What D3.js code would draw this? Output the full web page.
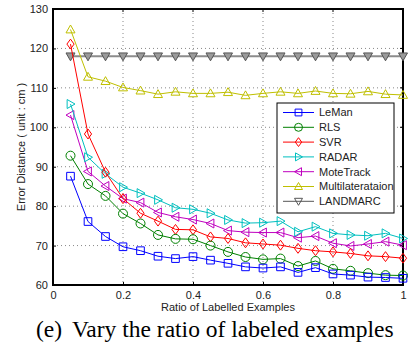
<!DOCTYPE html>
<html>
<head>
<meta charset="utf-8">
<script src="https://cdn.jsdelivr.net/npm/d3@7"></script>
<style>
  body { margin: 0; background: #fff; }
  svg text { font-family: "Liberation Sans", Arial, sans-serif; }
</style>
</head>
<body>
<div id="chart"></div>
<script>
// ratio of labelled examples
const ratios = [0.05, 0.1, 0.15, 0.2, 0.25, 0.3, 0.35, 0.4, 0.45, 0.5,
                0.55, 0.6, 0.65, 0.7, 0.75, 0.8, 0.85, 0.9, 0.95, 1.0];

const leman     = [87.6, 76.1, 72.3, 69.7, 68.7, 67.3, 66.7, 67.2, 66.3, 65.5, 64.6, 64.3, 64.6, 63.2, 64.4, 62.8, 62.5, 62.0, 61.9, 61.7];
const rls       = [92.8, 85.6, 82.6, 78.1, 75.6, 72.7, 71.7, 71.6, 70.0, 68.4, 67.1, 66.5, 66.7, 64.8, 66.1, 64.1, 63.6, 63.0, 62.5, 62.4];
const svr       = [121.1, 98.3, 88.6, 81.9, 78.2, 76.2, 74.1, 74.0, 72.2, 71.8, 70.7, 70.4, 70.1, 69.3, 68.7, 68.4, 68.0, 67.4, 67.2, 66.8];
const radar     = [105.9, 92.4, 88.2, 84.8, 83.3, 81.6, 79.6, 79.2, 78.2, 76.5, 75.7, 75.8, 76.2, 73.5, 74.8, 73.1, 72.7, 72.5, 73.1, 71.8];
const motetrack = [103.1, 88.8, 85.1, 81.9, 80.9, 78.4, 77.3, 76.6, 75.6, 73.8, 73.4, 73.3, 73.3, 72.0, 72.4, 70.6, 69.9, 70.4, 71.0, 70.1];
const multilat  = [124.8, 112.8, 111.7, 110.1, 109.3, 108.4, 109.0, 108.6, 108.6, 108.9, 108.1, 108.6, 109.0, 108.6, 109.2, 108.6, 108.5, 109.1, 108.4, 108.2];
const landmarc  = [118, 118, 118, 118, 118, 118, 118, 118, 118, 118, 118, 118, 118, 118, 118, 118, 118, 118, 118, 118];

const seriesNames = ["LeMan", "RLS", "SVR", "RADAR", "MoteTrack", "Multilaterataion", "LANDMARC"];
const seriesValues = [leman, rls, svr, radar, motetrack, multilat, landmarc];
const colors = ["#0000ff", "#008000", "#ff0000", "#00bfbf", "#bf00bf", "#bfbf00", "#555555"];
const markers = ["square", "circle", "diamond", "triR", "triL", "triU", "triD"];

const xTicks = [0, 0.2, 0.4, 0.6, 0.8, 1];
const yTicks = [60, 70, 80, 90, 100, 110, 120, 130];

const W = 413, H = 347;
const margin = { top: 9, right: 10, bottom: 62, left: 53 };
const width = 403 - margin.left;
const height = 285 - margin.top;

const svg = d3.select("#chart").append("svg")
    .attr("width", W).attr("height", H);

svg.append("rect").attr("width", W).attr("height", H).attr("fill", "#fff");

const g = svg.append("g")
    .attr("transform", "translate(" + margin.left + "," + margin.top + ")");

const x = d3.scaleLinear().domain([0, 1]).range([0, width]);
const y = d3.scaleLinear().domain([60, 130]).range([height, 0]);

// dotted grid
g.selectAll(".gx").data(xTicks.slice(1, -1)).enter().append("line")
    .attr("x1", d => x(d)).attr("x2", d => x(d))
    .attr("y1", 0).attr("y2", height)
    .attr("stroke", "#888").attr("stroke-width", 1).attr("stroke-dasharray", "1,3");
g.selectAll(".gy").data(yTicks.slice(1, -1)).enter().append("line")
    .attr("x1", 0).attr("x2", width)
    .attr("y1", d => y(d)).attr("y2", d => y(d))
    .attr("stroke", "#888").attr("stroke-width", 1).attr("stroke-dasharray", "1,3");

// axes
const xAxis = g.append("g")
    .attr("transform", "translate(0," + height + ")")
    .call(d3.axisBottom(x).tickValues(xTicks).tickFormat(d3.format("~g")).tickSizeInner(-3).tickSizeOuter(0).tickPadding(6));
const yAxis = g.append("g")
    .call(d3.axisLeft(y).tickValues(yTicks).tickSizeInner(-3).tickSizeOuter(0).tickPadding(5));
[xAxis, yAxis].forEach(a => {
    a.select(".domain").remove();
    a.selectAll("line").attr("stroke", "#000");
    a.selectAll("text").style("font-size", "11px").attr("fill", "#222");
});
// top & right ticks
g.selectAll(".tt").data(xTicks).enter().append("line")
    .attr("x1", d => x(d)).attr("x2", d => x(d)).attr("y1", 0).attr("y2", 3).attr("stroke", "#000");
g.selectAll(".tr").data(yTicks).enter().append("line")
    .attr("x1", width).attr("x2", width - 3).attr("y1", d => y(d)).attr("y2", d => y(d)).attr("stroke", "#000");

g.append("rect")
    .attr("width", width).attr("height", height)
    .attr("fill", "none").attr("stroke", "#000").attr("stroke-width", 2);

// marker shapes
function markerPath(type, s) {
    const h = s / 2;
    switch (type) {
        case "square": return `M${-h * 0.85},${-h * 0.85}H${h * 0.85}V${h * 0.85}H${-h * 0.85}Z`;
        case "circle": return d3.symbol(d3.symbolCircle, Math.PI * h * h)();
        case "diamond": return `M0,${-h * 1.1}L${h * 0.8},0L0,${h * 1.1}L${-h * 0.8},0Z`;
        case "triU": return `M0,${-h}L${h},${h * 0.75}L${-h},${h * 0.75}Z`;
        case "triD": return `M0,${h}L${h},${-h * 0.75}L${-h},${-h * 0.75}Z`;
        case "triR": return `M${h},0L${-h * 0.75},${h}L${-h * 0.75},${-h}Z`;
        case "triL": return `M${-h},0L${h * 0.75},${h}L${h * 0.75},${-h}Z`;
    }
}

const line = d3.line().x(d => x(d[0])).y(d => y(d[1]));

// draw in reverse so LeMan is on top
seriesValues.map((vals, i) => i).reverse().forEach(i => {
    const pts = ratios.map((r, j) => [r, seriesValues[i][j]]);
    const isLandmarc = i === 6;
    g.append("path").datum(pts)
        .attr("d", line)
        .attr("fill", "none")
        .attr("stroke", isLandmarc ? "#8c8c8c" : colors[i])
        .attr("stroke-width", isLandmarc ? 2 : 1);
    g.selectAll(".m" + i).data(pts).enter().append("path")
        .attr("transform", d => "translate(" + x(d[0]) + "," + y(d[1]) + ")")
        .attr("d", markerPath(markers[i], 9))
        .attr("fill", isLandmarc ? "#9a9a9a" : "none")
        .attr("stroke", colors[i])
        .attr("stroke-width", 1);
});

// legend
const lg = svg.append("g").attr("transform", "translate(277,103)");
lg.append("rect").attr("width", 117).attr("height", 110)
    .attr("fill", "#fff").attr("stroke", "#000").attr("stroke-width", 1);
seriesNames.forEach((name, i) => {
    const yy = 9.5 + i * 14.8;
    lg.append("line").attr("x1", 6).attr("x2", 37).attr("y1", yy).attr("y2", yy)
        .attr("stroke", colors[i]).attr("stroke-width", 1);
    lg.append("path").attr("transform", "translate(21.5," + yy + ")")
        .attr("d", markerPath(markers[i], 8))
        .attr("fill", "none").attr("stroke", colors[i]);
    lg.append("text").attr("x", 42).attr("y", yy).attr("dy", "0.35em")
        .style("font-size", "11px").attr("fill", "#222").text(name);
});

// axis titles
svg.append("text")
    .attr("x", margin.left + width / 2).attr("y", 311)
    .attr("text-anchor", "middle").style("font-size", "11px").attr("fill", "#222")
    .text("Ratio of Labelled Examples");
svg.append("text")
    .attr("transform", "translate(25," + (margin.top + height / 2) + ") rotate(-90)")
    .attr("text-anchor", "middle").style("font-size", "11px").attr("fill", "#222")
    .text("Error Distance ( unit : cm )");

// caption
const serif = "'Liberation Serif', 'Times New Roman', serif";
svg.append("text")
    .attr("x", 36).attr("y", 337)
    .style("font-family", serif).style("font-size", "23.5px").attr("fill", "#000")
    .text("(e)");
svg.append("text")
    .attr("x", 72).attr("y", 337)
    .style("font-family", serif).style("font-size", "23.5px").attr("fill", "#000")
    .text("Vary the ratio of labeled examples");
</script>
</body>
</html>
